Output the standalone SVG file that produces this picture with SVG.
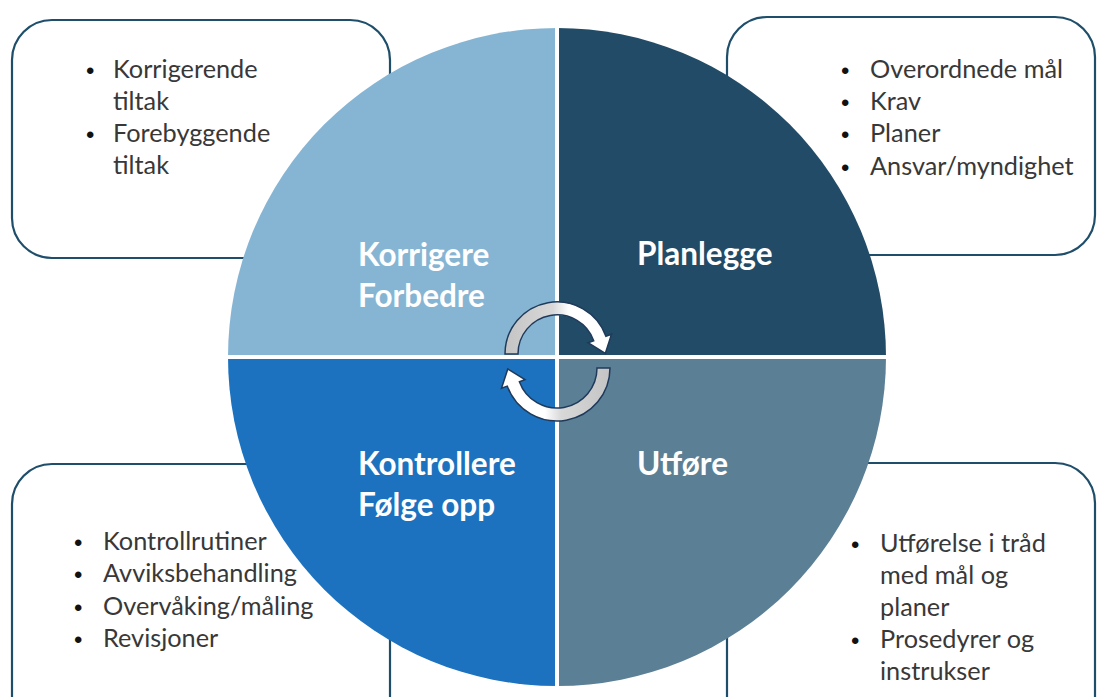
<svg xmlns="http://www.w3.org/2000/svg" width="1097" height="697" viewBox="0 0 1097 697">
<defs>
<style>
.box{fill:#fff;stroke:#1F4E6B;stroke-width:2.2}
.item{font-family:Lato,"Open Sans",sans-serif;font-size:25.3px;fill:#383838}
.bul{font-family:"Liberation Sans",sans-serif;font-size:24px;fill:#111}
.title{font-family:Lato,"Open Sans",sans-serif;font-size:31.5px;font-weight:bold;fill:#fff}
.arr{stroke:#1F3A5A;stroke-width:1.5}
</style>
<linearGradient id="gTop" x1="0" y1="0" x2="1" y2="0">
<stop offset="0" stop-color="#C4C4C4"/><stop offset="0.45" stop-color="#D8D8D8"/><stop offset="0.6" stop-color="#FFFFFF"/><stop offset="1" stop-color="#FFFFFF"/>
</linearGradient>
<linearGradient id="gBot" x1="1" y1="0" x2="0" y2="0">
<stop offset="0" stop-color="#C4C4C4"/><stop offset="0.45" stop-color="#D8D8D8"/><stop offset="0.6" stop-color="#FFFFFF"/><stop offset="1" stop-color="#FFFFFF"/>
</linearGradient>
</defs>
<rect width="1097" height="697" fill="#fff"/>

<g id="box-korrigere">
<rect class="box" x="12" y="20" width="378" height="238" rx="40"/>
<text class="bul" x="86" y="79">•</text>
<text class="item" x="113" y="78">Korrigerende</text>
<text class="item" x="113" y="110">tiltak</text>
<text class="bul" x="86" y="143">•</text>
<text class="item" x="113" y="142">Forebyggende</text>
<text class="item" x="113" y="174">tiltak</text>
</g>

<g id="box-planlegge">
<rect class="box" x="727" y="17" width="368" height="238" rx="40"/>
<text class="bul" x="841" y="79">•</text>
<text class="item" x="870" y="78">Overordnede mål</text>
<text class="bul" x="841" y="111">•</text>
<text class="item" x="870" y="110">Krav</text>
<text class="bul" x="841" y="143">•</text>
<text class="item" x="870" y="142">Planer</text>
<text class="bul" x="841" y="176">•</text>
<text class="item" x="870" y="175">Ansvar/myndighet</text>
</g>

<g id="box-kontrollere">
<rect class="box" x="12" y="464" width="378" height="280" rx="40"/>
<text class="bul" x="74" y="551">•</text>
<text class="item" x="103" y="550">Kontrollrutiner</text>
<text class="bul" x="74" y="583">•</text>
<text class="item" x="103" y="582">Avviksbehandling</text>
<text class="bul" x="74" y="616">•</text>
<text class="item" x="103" y="615">Overvåking/måling</text>
<text class="bul" x="74" y="648">•</text>
<text class="item" x="103" y="647">Revisjoner</text>
</g>

<g id="box-utfore">
<rect class="box" x="727" y="463" width="368" height="280" rx="40"/>
<text class="bul" x="851" y="553">•</text>
<text class="item" x="880" y="552">Utførelse i tråd</text>
<text class="item" x="880" y="584">med mål og</text>
<text class="item" x="880" y="616">planer</text>
<text class="bul" x="851" y="649">•</text>
<text class="item" x="880" y="648">Prosedyrer og</text>
<text class="item" x="880" y="680">instrukser</text>
</g>

<g id="q-korrigere">
<path d="M557,357 L228,357 A329,329 0 0 1 557,28 Z" fill="#86B5D4"/>
<text class="title" x="358" y="266">Korrigere</text>
<text class="title" x="358" y="307">Forbedre</text>
</g>
<g id="q-planlegge">
<path d="M557,357 L557,28 A329,329 0 0 1 886,357 Z" fill="#214B66"/>
<text class="title" x="637" y="265">Planlegge</text>
</g>
<g id="q-utfore">
<path d="M557,357 L886,357 A329,329 0 0 1 557,686 Z" fill="#5B7F95"/>
<text class="title" x="637" y="475">Utføre</text>
</g>
<g id="q-kontrollere">
<path d="M557,357 L557,686 A329,329 0 0 1 228,357 Z" fill="#1C72BE"/>
<text class="title" x="358" y="475">Kontrollere</text>
<text class="title" x="358" y="516">Følge opp</text>
</g>
<g id="dividers" stroke="#fff" stroke-width="4">
<line x1="557" y1="26" x2="557" y2="690"/>
<line x1="226" y1="357" x2="890" y2="357"/>
</g>

<g id="connectors">
<path class="arr" fill="url(#gTop)" d="M505,354 A52,52 0 0 1 605.9,336.2 L611.5,334.2 L605.3,353.4 L588,342.7 L593.7,340.7 A39,39 0 0 0 518,354 Z"/>
<path class="arr" fill="url(#gBot)" d="M610,368 A53,53 0 0 1 507.2,386.1 L501.5,388.2 L507.8,368.9 L525,379.6 L519.4,381.7 A40,40 0 0 0 597,368 Z"/>
</g>
</svg>
